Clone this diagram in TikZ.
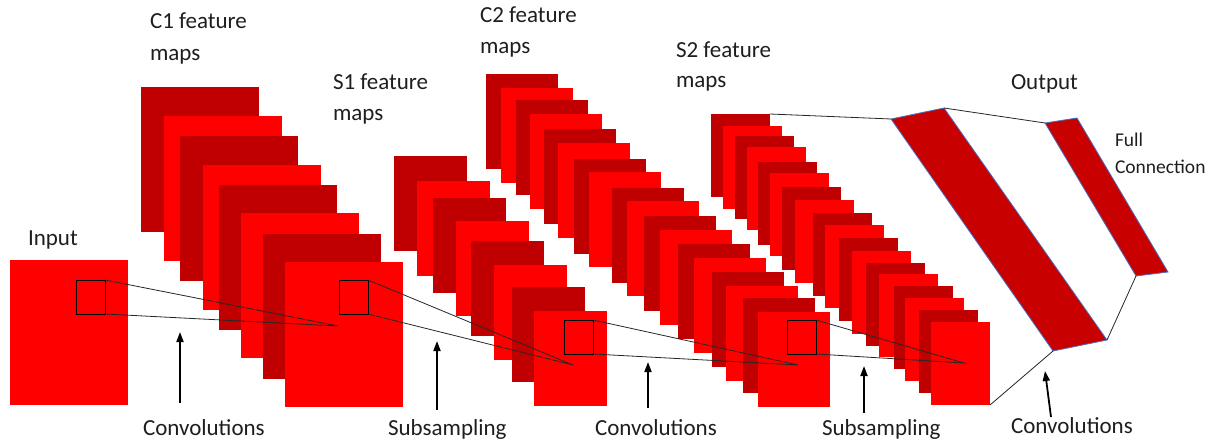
\documentclass[tikz,border=0pt]{standalone}
\usepackage{fontspec}
\setmainfont{Carlito}
\usetikzlibrary{arrows.meta}
\definecolor{brred}{RGB}{255,0,0}
\definecolor{dkred}{RGB}{192,0,0}
\definecolor{parred}{RGB}{200,0,0}
\definecolor{paredge}{RGB}{68,114,196}
\definecolor{txt}{RGB}{30,30,30}
\tikzset{
  fmap/.style={inner sep=0pt, outer sep=0pt, anchor=north west, draw=none},
  kbox/.style={draw=black, line width=0.9pt, inner sep=0pt, outer sep=0pt, anchor=north west,
               minimum width=29pt, minimum height=34pt},
  link/.style={draw=black!85, line width=0.8pt},
  uparrow/.style={-{Triangle[length=10pt,width=7pt]}, line width=1.8pt, draw=black},
  lbl/.style={anchor=base west, inner sep=0pt, outer sep=0pt, font=\fontsize{23}{28}\selectfont, text=txt},
  smalllbl/.style={anchor=base west, inner sep=0pt, outer sep=0pt, font=\fontsize{19.5}{24}\selectfont, text=txt},
  para/.style={fill=parred, draw=paredge, line width=0.8pt, line join=miter}
}
\begin{document}
\begin{tikzpicture}[x=1pt,y=-1pt]
\useasboundingbox (0,0) rectangle (1225,444);

% Input
\node[fmap, fill=brred, minimum width=118pt, minimum height=145pt] (input) at (10,260) {};

% C1 feature maps
\foreach \i/\xx/\yy/\col in {1/141/87/dkred, 2/164/116/brred, 3/180/136/dkred, 4/203/165/brred,
                             5/219/185/dkred, 6/241/213/brred, 7/263/234/dkred, 8/285/262/brred}
  \node[fmap, fill=\col, minimum width=118pt, minimum height=145pt] (c1-\i) at (\xx,\yy) {};

% S1 feature maps
\foreach \i/\xx/\yy/\col in {1/394/156/dkred, 2/417/181/brred, 3/433/198/dkred, 4/456/221/brred,
                             5/471/241/dkred, 6/494/265/brred, 7/512/287/dkred, 8/534/311/brred}
  \node[fmap, fill=\col, minimum width=73pt, minimum height=95pt] (s1-\i) at (\xx,\yy) {};

% C2 feature maps
\foreach \i/\xx/\yy/\col in {1/486/74/dkred, 2/501/88/brred, 3/516/100/dkred, 4/530/114/brred,
                             5/544/129/dkred, 6/558/143/brred, 7/574/159/dkred, 8/589/172/brred,
                             9/612/188/dkred, 10/627/201/brred, 11/644/216/dkred, 12/660/230/brred,
                             13/678/244/dkred, 14/694/258/brred, 15/712/272/dkred, 16/726/286/brred,
                             17/743/298/dkred, 18/758/312/brred}
  \node[fmap, fill=\col, minimum width=72pt, minimum height=95pt] (c2-\i) at (\xx,\yy) {};

% S2 feature maps
\foreach \i/\xx/\yy/\col in {1/711/114/dkred, 2/723/126/brred, 3/735/136/dkred, 4/747/147/brred,
                             5/758/162/dkred, 6/770/173/brred, 7/782/187/dkred, 8/795/200/brred,
                             9/813/213/dkred, 10/825/225/brred, 11/839/238/dkred, 12/852/251/brred,
                             13/866/263/dkred, 14/879/274/brred, 15/894/286/dkred, 16/905/298/brred,
                             17/919/310/dkred, 18/931/322/brred}
  \node[fmap, fill=\col, minimum width=59pt, minimum height=83pt] (s2-\i) at (\xx,\yy) {};

% Output layers
\coordinate (o1a) at (891,119);
\coordinate (o1b) at (944,108);
\coordinate (o1c) at (1107,340);
\coordinate (o1d) at (1053,351);
\coordinate (o2a) at (1045,123);
\coordinate (o2b) at (1077,118);
\coordinate (o2c) at (1168,272);
\coordinate (o2d) at (1136,276);
\filldraw[para] (o1a) -- (o1b) -- (o1c) -- (o1d) -- cycle;
\filldraw[para] (o2a) -- (o2b) -- (o2c) -- (o2d) -- cycle;

% receptive field boxes and links
\node[kbox] (inbox) at (76,280) {};
\node[kbox] (c1box) at (339,280) {};
\node[kbox] (s1box) at (564,320) {};
\node[kbox] (c2box) at (787,320) {};
\coordinate (p1) at (338,326);
\coordinate (p2) at (573,365);
\coordinate (p3) at (798,365);
\coordinate (p4) at (964,363);
\draw[link] (inbox.north east) -- (p1) -- (inbox.south east);
\draw[link] (c1box.north east) -- (p2) -- (c1box.south east);
\draw[link] (s1box.north east) -- (p3) -- (s1box.south east);
\draw[link] (c2box.north east) -- (p4) -- (c2box.south east);

% links to output layers
\draw[link] (s2-1.north east) -- (o1a);
\draw[link] (o1b) -- (o2a);
\draw[link] (s2-18.south east) -- (o1d);
\draw[link] (o1c) -- (o2d);

% labels
\node[lbl] (l-input) at (28,245) {Input};
\node[lbl] (l-c1a) at (150,29) {C1 feature};
\node[lbl] (l-c1b) at (150,60) {maps};
\node[lbl] (l-s1a) at (333,89) {S1 feature};
\node[lbl] (l-s1b) at (333,120) {maps};
\node[lbl] (l-c2a) at (480,23) {C2 feature};
\node[lbl] (l-c2b) at (480,53) {maps};
\node[lbl] (l-s2a) at (676,57) {S2 feature};
\node[lbl] (l-s2b) at (676,87) {maps};
\node[lbl] (l-out) at (1011,89) {Output};
\node[smalllbl] (l-fa) at (1115,146) {Full};
\node[smalllbl] (l-fb) at (1115,173) {Connection};

\node[lbl] (l-conv1) at (143,435) {Convolutions};
\node[lbl] (l-sub1) at (388,435) {Subsampling};
\node[lbl] (l-conv2) at (595,435) {Convolutions};
\node[lbl] (l-sub2) at (822,435) {Subsampling};
\node[lbl] (l-conv3) at (1011,433) {Convolutions};

% arrows
\coordinate (a1s) at (180,403); \coordinate (a1e) at (180,332);
\coordinate (a2s) at (437,410); \coordinate (a2e) at (437,341);
\coordinate (a3s) at (648,408); \coordinate (a3e) at (648,362);
\coordinate (a4s) at (864,413); \coordinate (a4e) at (864,366);
\coordinate (a5s) at (1051,417); \coordinate (a5e) at (1045,371);
\draw[uparrow] (a1s) -- (a1e);
\draw[uparrow] (a2s) -- (a2e);
\draw[uparrow] (a3s) -- (a3e);
\draw[uparrow] (a4s) -- (a4e);
\draw[uparrow] (a5s) -- (a5e);
\end{tikzpicture}
\end{document}
